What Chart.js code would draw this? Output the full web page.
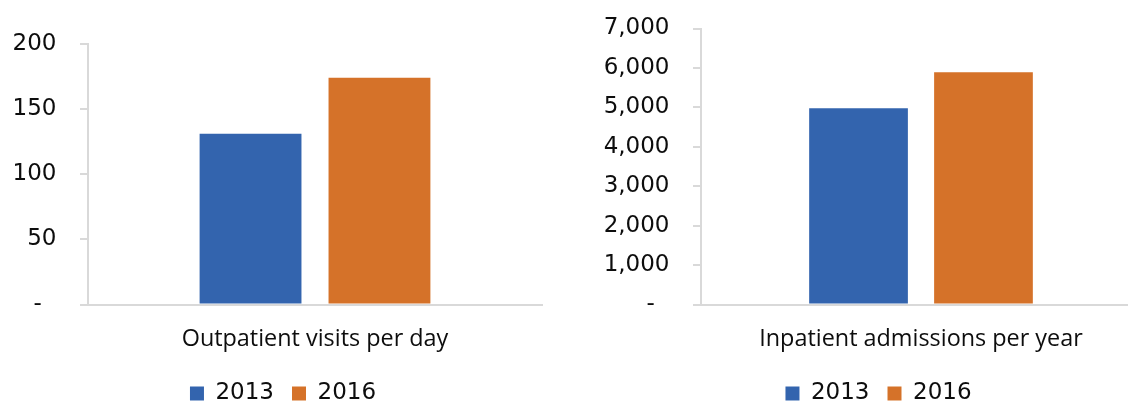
<!DOCTYPE html>
<html>
<head>
<meta charset="utf-8">
<script src="https://cdn.jsdelivr.net/npm/chart.js@4.4.0/dist/chart.umd.min.js"></script>
<style>
    body { margin: 0; background: #fff; overflow: hidden; width: 1128px; height: 401px; position: relative; }
    canvas { position: absolute; top: 0; }
</style>
</head>
<body>
<canvas id="outpatientChart" width="566" height="415" style="left:0px"></canvas>
<canvas id="inpatientChart" width="629" height="415" style="left:564px"></canvas>
<script>
const years = ["2013", "2016"];
const barColors = ["#3364ae", "#d57229"];

const outpatientCategory = ["Outpatient visits per day"];
const outpatientValues = [131, 174];
const outpatientTicks = [0, 50, 100, 150, 200];

const inpatientCategory = ["Inpatient admissions per year"];
const inpatientValues = [4980, 5890];
const inpatientTicks = [0, 1000, 2000, 3000, 4000, 5000, 6000, 7000];

const textColor = "#0d0d0d";
const lineColor = "#d9d9d9";


// one bar chart, one category, one bar per year
function makeChart(id, category, values, ticks, box) {
    const ctx = document.getElementById(id).getContext("2d");

    new Chart(ctx, {
        type: "bar",
        data: {
            labels: category,
            datasets: years.map((year, i) => ({
                label: year,
                data: [values[i]],
                backgroundColor: barColors[i],
                borderWidth: 0,
                categoryPercentage: 0.568,
                barPercentage: 0.79
            }))
        },
        options: {
            responsive: false,
            animation: false,
            devicePixelRatio: 1,
            layout: { padding: { top: box.top, left: 0, right: 0, bottom: 0 } },
            plugins: {
                tooltip: { enabled: false },
                legend: {
                    position: "bottom",
                    labels: {
                        boxWidth: 14,
                        boxHeight: 14,
                        padding: 18,
                        color: textColor,
                        font: { family: "DejaVu Sans", size: 23 }
                    }
                }
            },
            scales: {
                x: {
                    grid: { display: false, drawTicks: false },
                    border: { display: true, color: lineColor, width: 2 },
                    ticks: {
                        padding: 21,
                        color: textColor,
                        font: { family: "Open Sans", size: 23.4 }
                    },
                    afterFit: s => { s.height = 59.5; }
                },
                y: {
                    position: "left",
                    min: ticks[0],
                    max: ticks[ticks.length - 1],
                    grid: {
                        display: true,
                        drawOnChartArea: false,
                        drawTicks: true,
                        tickLength: 8,
                        color: lineColor,
                        lineWidth: 2
                    },
                    border: { display: true, color: lineColor, width: 2 },
                    ticks: {
                        stepSize: ticks[1] - ticks[0],
                        padding: 23.5,
                        color: textColor,
                        font: { family: "DejaVu Sans", size: 23 },
                        callback: v => v === 0 ? "-\u00a0\u00a0" : v.toLocaleString("en-US")
                    },
                    afterFit: s => {
                        s.width = box.left;
                        // label padding must not push the plot top down
                        s.paddingTop = 0;
                        s.paddingBottom = 0;
                    }
                },
                // empty axis, only keeps space on the right
                yRight: {
                    position: "right",
                    grid: { display: false },
                    border: { display: false },
                    ticks: { display: false },
                    afterFit: s => {
                        s.width = box.right;
                        s.paddingTop = 0;
                        s.paddingBottom = 0;
                    }
                }
            }
        }
    });
}

makeChart("outpatientChart", outpatientCategory, outpatientValues, outpatientTicks,
    { top: 44, left: 88, right: 24 });
makeChart("inpatientChart", inpatientCategory, inpatientValues, inpatientTicks,
    { top: 28.5, left: 137, right: 52 });
</script>
</body>
</html>
